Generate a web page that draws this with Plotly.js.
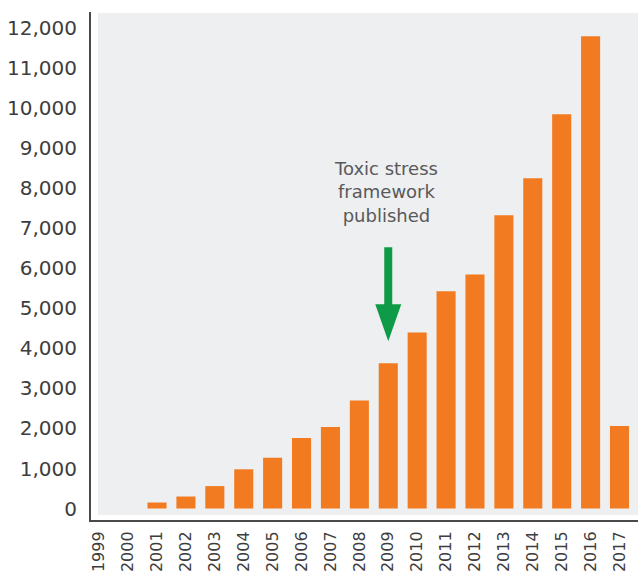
<!DOCTYPE html>
<html>
<head>
<meta charset="utf-8">
<script src="https://cdn.plot.ly/plotly-3.0.1.min.js"></script>
<style>html,body{margin:0;padding:0;background:#fff;}#chart{width:638px;height:573px;}</style>
</head>
<body>
<div id="chart"></div>
<script>
const years = ['1999','2000','2001','2002','2003','2004','2005','2006','2007','2008','2009','2010','2011','2012','2013','2014','2015','2016','2017'];
const publications = [0, 0, 150, 300, 560, 980, 1270, 1760, 2040, 2700, 3630, 4400, 5430, 5850, 7330, 8250, 9850, 11800, 2060];
const yTickValues = [0,1000,2000,3000,4000,5000,6000,7000,8000,9000,10000,11000,12000];
const yTickLabels = ['0','1,000','2,000','3,000','4,000','5,000','6,000','7,000','8,000','9,000','10,000','11,000','12,000'];
const noteText = 'Toxic stress<br>framework<br>published';
const noteYear = '2009';
const noteIndex = years.indexOf(noteYear);

const trace = {
  type: 'bar',
  x: years,
  y: publications,
  marker: {color: '#f27b21'},
  hoverinfo: 'skip'
};

const layout = {
  width: 638, height: 573,
  margin: {l: 91, r: 0, t: 12, b: 53, pad: 0},
  paper_bgcolor: '#ffffff',
  plot_bgcolor: '#ffffff',
  bargap: 0.34,
  showlegend: false,
  font: {family: 'DejaVu Sans, sans-serif', color: '#3d3d3d'},
  xaxis: {
    type: 'category',
    range: [-0.284, 18.64],
    tickangle: -90,
    tickfont: {size: 16, color: '#3d3d3d'},
    showgrid: false, zeroline: false,
    showline: true, linecolor: '#4a4a4a', linewidth: 2,
    ticks: '', ticklabelstandoff: 3, fixedrange: true
  },
  yaxis: {
    range: [-287, 12407],
    tickvals: yTickValues,
    ticktext: yTickLabels,
    tickfont: {size: 20, color: '#3d3d3d'},
    showgrid: false, zeroline: false,
    showline: true, linecolor: '#4a4a4a', linewidth: 2,
    ticks: '', ticklabelstandoff: 8, fixedrange: true
  },
  shapes: [
    {type: 'rect', xref: 'paper', yref: 'paper', x0: 0.0128, x1: 1, y0: 0.01, y1: 0.998,
     fillcolor: '#edeff1', line: {width: 0}, layer: 'below'},
    {type: 'path', xref: 'x', yref: 'y', xsizemode: 'pixel', ysizemode: 'pixel',
     xanchor: noteIndex, yanchor: 4180,
     path: 'M-4,94 L4,94 L4,37 L13,37 L0,0 L-13,37 L-4,37 Z',
     fillcolor: '#0f9a48', line: {width: 0}}
  ],
  annotations: [
    {x: noteIndex, y: 7900, xref: 'x', yref: 'y', text: noteText, showarrow: false,
     xshift: -2, yanchor: 'middle', align: 'center',
     font: {family: 'DejaVu Sans, sans-serif', size: 18, color: '#595959'}}
  ]
};

Plotly.newPlot('chart', [trace], layout, {displayModeBar: false, staticPlot: true});
</script>
</body>
</html>
